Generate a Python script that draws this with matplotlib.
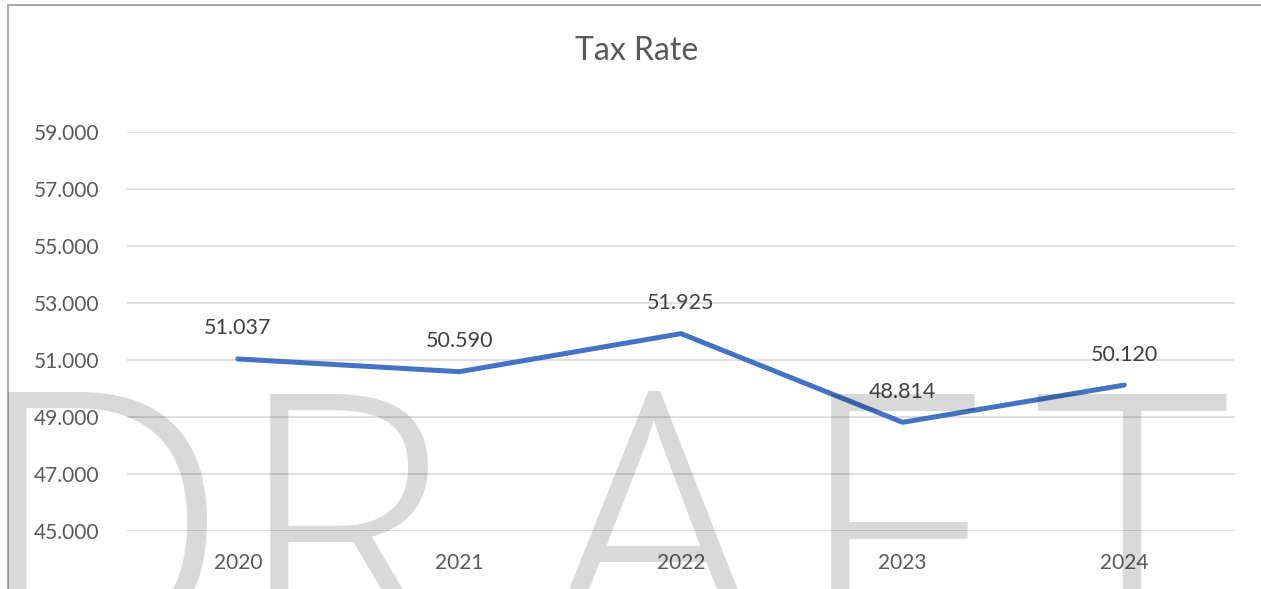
import matplotlib
matplotlib.use("Agg")
import matplotlib.pyplot as plt
from matplotlib.textpath import TextPath
from matplotlib.font_manager import FontProperties
from matplotlib.lines import Line2D

years = ["2020", "2021", "2022", "2023", "2024"]
tax_rate = [51.037, 50.590, 51.925, 48.814, 50.120]
y_ticks = [45, 47, 49, 51, 53, 55, 57, 59]
title = "Tax Rate"
watermark = "DRAFT"

W, H = 1261, 589
DPI = 100
plt.rcParams['font.family'] = ['Lato', 'DejaVu Sans']

fig = plt.figure(figsize=(W / DPI, H / DPI), dpi=DPI)
fig.patch.set_facecolor('white')

ax = fig.add_axes([127 / W, 1 - 531 / H, (1235 - 127) / W, (531 - 132) / H])
ax.set_facecolor('none')
x = list(range(len(years)))
ax.plot(x, tax_rate, color='#4472C4', lw=3.6, solid_capstyle='round',
        solid_joinstyle='round', zorder=3)
for xi, v in zip(x, tax_rate):
    ax.annotate(f"{v:.3f}", (xi, v), xytext=(0, 22), textcoords='offset points',
                ha='center', va='center', fontsize=15.5, color='#404040', zorder=4)

ax.set_xlim(-0.5, len(years) - 0.5)
ax.set_ylim(45, 59)
ax.set_yticks(y_ticks)
ax.set_yticklabels([f"{t:.3f}" for t in y_ticks])
ax.set_xticks(x)
ax.set_xticklabels(years)
ax.grid(axis='y', color='#d9d9d9', lw=1.2, zorder=0)
ax.set_axisbelow(True)
for s in ax.spines.values():
    s.set_visible(False)
ax.tick_params(axis='both', length=0, labelsize=15, labelcolor='#595959')
ax.tick_params(axis='y', pad=20)
ax.tick_params(axis='x', pad=16)

fig.text(637 / W, 1 - 51 / H, title, ha='center', va='center', fontsize=23,
         color='#595959')

# chart border (top and left)
fig.add_artist(Line2D([8 / W, 1], [1 - 5 / H, 1 - 5 / H], color='#a6a6a6', lw=1.4))
fig.add_artist(Line2D([8 / W, 8 / W], [1 - 5 / H, 0], color='#a6a6a6', lw=1.4))

# watermark
fp = FontProperties(family=['Open Sans', 'DejaVu Sans'], weight=300)
cap = TextPath((0, 0), 'H', size=1, prop=fp).get_extents()
cap_h = cap.y1 - cap.y0
cap_px = 262
size_pt = cap_px * 72 / DPI / cap_h
baseline_px = 393 + cap_px
# (anchor pixel, mode): 'left' aligns ink left edge, 'center' aligns ink centre
ink_anchor = {'D': (8, 'left'), 'R': (270, 'left'), 'A': (653, 'center'),
              'F': (831, 'left'), 'T': (1131, 'center')}
for ch in watermark:
    ext = TextPath((0, 0), ch, size=size_pt, prop=fp).get_extents()
    x0_px = ext.x0 * DPI / 72
    w_px = (ext.x1 - ext.x0) * DPI / 72
    pos, mode = ink_anchor[ch]
    left = pos if mode == 'left' else pos - w_px / 2
    fig.text((left - x0_px) / W, 1 - baseline_px / H, ch, fontproperties=fp,
             fontsize=size_pt, color='black', alpha=0.15, ha='left', va='baseline',
             zorder=10)

fig.savefig('out.png', dpi=DPI)
